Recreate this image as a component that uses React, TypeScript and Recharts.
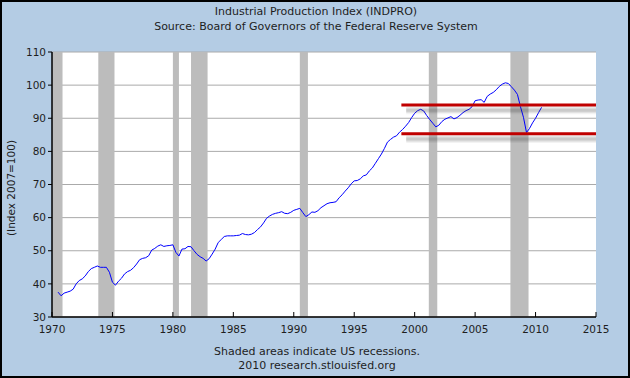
import React from 'react';
import { LineChart, Line, XAxis, YAxis, CartesianGrid, ReferenceArea, ReferenceLine } from 'recharts';

// Quarterly observations, first one at mid-1970
const firstQuarter = 1970.5;
const indpro = [
  37.5, 36.4,
  37.2, 37.5, 37.8, 38.4,
  40.0, 41.0, 41.5, 42.4,
  43.7, 44.6, 45.0, 45.4,
  45.0, 45.0, 45.0, 43.5,
  40.5, 39.6, 40.8, 41.7,
  43.0, 43.7, 44.1, 44.9,
  46.0, 47.3, 47.7, 47.9,
  48.5, 50.2, 50.7, 51.4,
  51.8, 51.3, 51.5, 51.6,
  51.8, 49.5, 48.4, 50.5,
  50.6, 51.3, 51.2, 50.0,
  48.9, 48.2, 47.7, 46.9,
  47.6, 49.0, 50.5, 52.5,
  53.4, 54.3, 54.5, 54.5,
  54.5, 54.6, 54.7, 55.2,
  54.9, 54.8, 55.0, 55.5,
  56.4, 57.2, 58.4, 59.8,
  60.5, 61.0, 61.3, 61.5,
  61.8, 61.3, 61.2, 61.6,
  62.2, 62.5, 62.8, 61.5,
  60.3, 60.9, 61.7, 61.6,
  62.1, 63.0, 63.6, 64.2,
  64.5, 64.6, 64.8, 66.0,
  66.9, 68.0, 69.0, 70.2,
  71.1, 71.2, 71.7, 72.6,
  72.9, 74.1, 75.0, 76.4,
  77.8, 79.2, 80.9, 82.8,
  83.6, 84.3, 84.7, 85.8,
  86.6, 87.6, 88.7, 90.2,
  91.5, 92.3, 92.7, 92.2,
  90.8, 89.6, 88.5, 87.4,
  87.9, 89.0, 89.7, 90.1,
  90.5, 89.8, 90.2, 90.9,
  91.7, 92.3, 92.7, 93.5,
  95.3, 95.5, 95.6, 94.8,
  96.6, 97.3, 97.8, 98.6,
  99.6, 100.3, 100.7, 100.5,
  99.5, 98.5, 97.2, 93.5,
  90.3, 85.7, 86.9, 88.6,
  90.0, 91.7, 93.3,
];

const xTicks = [1970, 1975, 1980, 1985, 1990, 1995, 2000, 2005, 2010, 2015];
const yTicks = [30, 40, 50, 60, 70, 80, 90, 100, 110];

const recessionStarts = [1970.0, 1973.83, 1980.0, 1981.5, 1990.5, 2001.17, 2007.92];
const recessionEnds = [1970.87, 1975.17, 1980.5, 1982.87, 1991.17, 2001.87, 2009.42];

const bandStart = 1998.9;
const bandEnd = 2015;
const bandUpper = 94.0;
const bandLower = 85.3;

const titleText = 'Industrial Production Index (INDPRO)';
const subtitleText = 'Source: Board of Governors of the Federal Reserve System';
const yLabelText = '(Index 2007=100)';
const footer1 = 'Shaded areas indicate US recessions.';
const footer2 = '2010 research.stlouisfed.org';

const data = indpro.map((v, i) => ({ t: firstQuarter + i * 0.25, v }));

const FONT = '"DejaVu Sans", Verdana, sans-serif';
const TEXT = '#1e1e1e';

export default function App() {
  const shadowOffset = 1.6;
  const shadowLayers = [
    { w: 8, o: 0.06 },
    { w: 5.5, o: 0.09 },
    { w: 3, o: 0.14 },
  ];
  return (
    <div
      style={{
        position: 'absolute',
        left: 0,
        top: 0,
        width: 630,
        height: 378,
        background: '#b4cce4',
        overflow: 'hidden',
      }}
    >
      <LineChart
        width={630}
        height={378}
        data={data}
        margin={{ top: 52, right: 34, bottom: 31, left: 0 }}
      >
        <CartesianGrid vertical={false} stroke="#aaaaaa" fill="#ffffff" fillOpacity={1} />
        {recessionStarts.map((s, i) => (
          <ReferenceArea
            key={'r' + i}
            x1={s}
            x2={recessionEnds[i]}
            y1={30}
            y2={110}
            fill="#bcbcbc"
            fillOpacity={1}
            stroke="none"
          />
        ))}
        <XAxis
          type="number"
          dataKey="t"
          domain={[1970, 2015]}
          ticks={xTicks}
          height={30}
          tickSize={-5}
          tickMargin={14}
          axisLine={{ stroke: '#000', strokeWidth: 1.5 }}
          tickLine={{ stroke: '#000' }}
          tick={{ fill: TEXT, fontSize: 10.5, fontFamily: FONT }}
          allowDataOverflow
        />
        <YAxis
          type="number"
          domain={[30, 110]}
          ticks={yTicks}
          width={52}
          tickSize={4}
          tickMargin={2}
          axisLine={{ stroke: '#000', strokeWidth: 1.5 }}
          tickLine={{ stroke: '#000' }}
          tick={{ fill: TEXT, fontSize: 10.5, fontFamily: FONT }}
          allowDataOverflow
        />
        <Line
          type="linear"
          dataKey="v"
          stroke="#0000ff"
          strokeWidth={1}
          dot={false}
          isAnimationActive={false}
        />
        {[bandUpper, bandLower].map((lv, j) =>
          shadowLayers.map((s, k) => (
            <ReferenceLine
              key={'s' + j + '-' + k}
              segment={[
                { x: bandStart + 0.4, y: lv - shadowOffset },
                { x: bandEnd, y: lv - shadowOffset },
              ]}
              stroke="#3a3a3a"
              strokeOpacity={s.o}
              strokeWidth={s.w}
            />
          ))
        )}
        <ReferenceLine
          segment={[
            { x: bandStart, y: bandUpper },
            { x: bandEnd, y: bandUpper },
          ]}
          stroke="#c00000"
          strokeWidth={3}
        />
        <ReferenceLine
          segment={[
            { x: bandStart, y: bandLower },
            { x: bandEnd, y: bandLower },
          ]}
          stroke="#c00000"
          strokeWidth={3}
        />
      </LineChart>
      <svg
        width={630}
        height={378}
        style={{ position: 'absolute', left: 0, top: 0, pointerEvents: 'none' }}
      >
        <text x={316} y={15} textAnchor="middle" fontSize={11} fontFamily={FONT} fill={TEXT}>
          {titleText}
        </text>
        <text x={316} y={30} textAnchor="middle" fontSize={11} fontFamily={FONT} fill={TEXT}>
          {subtitleText}
        </text>
        <text
          x={0}
          y={0}
          transform="translate(15,188) rotate(-90)"
          textAnchor="middle"
          fontSize={10.5}
          fontFamily={FONT}
          fill={TEXT}
        >
          {yLabelText}
        </text>
        <text x={317} y={355} textAnchor="middle" fontSize={11} fontFamily={FONT} fill={TEXT}>
          {footer1}
        </text>
        <text x={317} y={369} textAnchor="middle" fontSize={11} fontFamily={FONT} fill={TEXT}>
          {footer2}
        </text>
        <rect x={1} y={1} width={628} height={376} fill="none" stroke="#000" strokeWidth={2} />
      </svg>
    </div>
  );
}
